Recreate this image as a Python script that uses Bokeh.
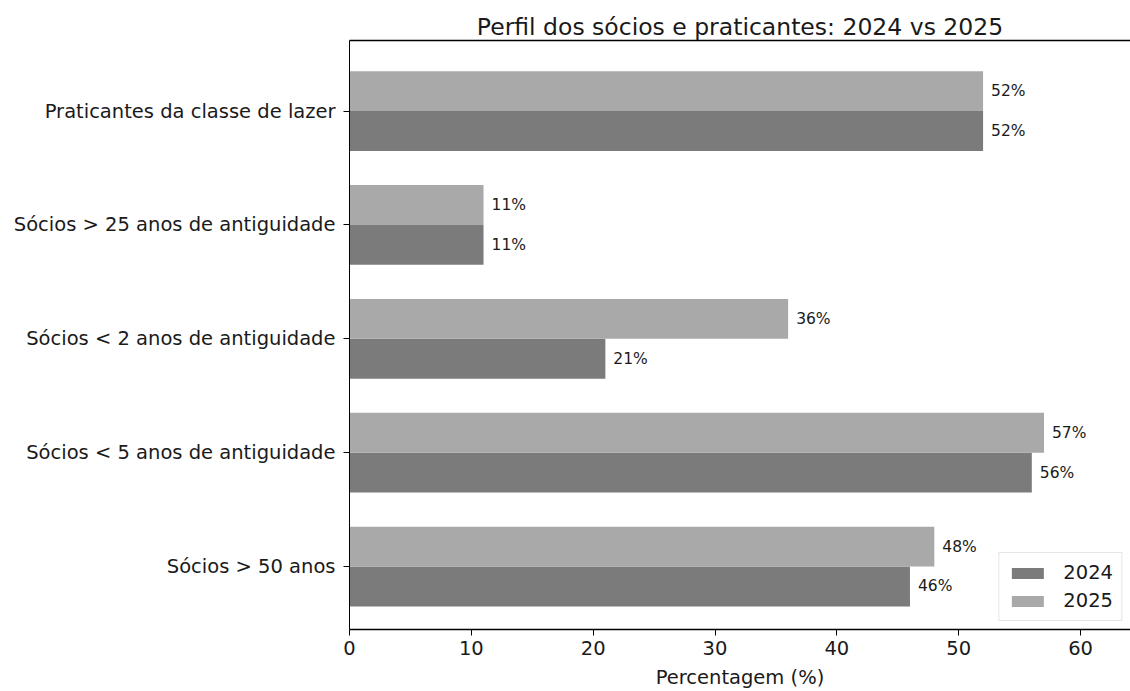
from bokeh.plotting import figure
from bokeh.models import ColumnDataSource, Range1d, FixedTicker, LinearAxis, Legend, LegendItem
from bokeh.core.properties import value
from bokeh.embed import file_html
from bokeh.resources import INLINE

# Data (bottom to top)
categories = [
    "Sócios > 50 anos",
    "Sócios < 5 anos de antiguidade",
    "Sócios < 2 anos de antiguidade",
    "Sócios > 25 anos de antiguidade",
    "Praticantes da classe de lazer",
]
values_2024 = [46, 56, 21, 11, 52]
values_2025 = [48, 57, 36, 11, 52]
years = ["2024", "2025"]
x_ticks = [0, 10, 20, 30, 40, 50, 60]

FONT = "DejaVu Sans"
TXT = "#1a1a1a"
C2024 = "#7b7b7b"
C2025 = "#a9a9a9"
bar_h = 0.35

pos = list(range(len(categories)))
src24 = ColumnDataSource(dict(
    y=[i - bar_h / 2 for i in pos], v=values_2024,
    lab=[f"{v}%" for v in values_2024]))
src25 = ColumnDataSource(dict(
    y=[i + bar_h / 2 for i in pos], v=values_2025,
    lab=[f"{v}%" for v in values_2025]))

p = figure(width=1130, height=691, output_backend="svg", toolbar_location=None,
           x_range=Range1d(0, 64.1), y_range=Range1d(-0.553, 4.62),
           min_border_left=349, min_border_right=0, min_border_top=40, min_border_bottom=61,
           title="Perfil dos sócios e praticantes: 2024 vs 2025")

p.title.text_font = FONT
p.title.text_font_size = "23.5px"
p.title.text_font_style = "normal"
p.title.text_color = TXT
p.title.align = "center"
p.title.offset = 16
p.title.standoff = 0

r24 = p.hbar(y="y", right="v", left=0, height=bar_h, source=src24,
             fill_color=C2024, line_color=None)
r25 = p.hbar(y="y", right="v", left=0, height=bar_h, source=src25,
             fill_color=C2025, line_color=None)

for s in (src24, src25):
    p.text(x="v", y="y", text="lab", source=s, x_offset=8,
           text_baseline="middle", text_align="left",
           text_font=value(FONT), text_font_size="15.5px", text_color=TXT)

p.xgrid.visible = False
p.ygrid.visible = False
p.outline_line_color = None
p.background_fill_color = "white"
p.border_fill_color = "white"

# x axis
xa = p.xaxis[0]
xa.ticker = FixedTicker(ticks=x_ticks)
xa.axis_label = "Percentagem (%)"
xa.axis_label_text_font = FONT
xa.axis_label_text_font_size = "19.5px"
xa.axis_label_text_font_style = "normal"
xa.axis_label_text_color = TXT
xa.axis_label_standoff = 8
xa.major_label_text_font = FONT
xa.major_label_text_font_size = "19.5px"
xa.major_label_text_color = TXT
xa.major_label_standoff = 5
xa.major_tick_out = 6
xa.major_tick_in = 0
xa.minor_tick_line_color = None
xa.axis_line_color = "black"
xa.axis_line_width = 1.5
xa.major_tick_line_color = "black"

# y axis
ya = p.yaxis[0]
ya.ticker = FixedTicker(ticks=pos)
ya.major_label_overrides = {i: c for i, c in enumerate(categories)}
ya.major_label_text_font = FONT
ya.major_label_text_font_size = "19.5px"
ya.major_label_text_color = TXT
ya.major_label_standoff = 8
ya.major_tick_out = 6
ya.major_tick_in = 0
ya.minor_tick_line_color = None
ya.axis_line_color = "black"
ya.major_tick_line_color = "black"

# top spine
top = LinearAxis(ticker=FixedTicker(ticks=[]), major_tick_line_color=None,
                 minor_tick_line_color=None, axis_line_color="black",
                 axis_line_width=1.5, major_label_text_font_size="0px")
p.add_layout(top, "above")

legend = Legend(items=[LegendItem(label=years[0], renderers=[r24]),
                       LegendItem(label=years[1], renderers=[r25])],
                location="bottom_right")
legend.label_text_font = FONT
legend.label_text_font_size = "19.5px"
legend.label_text_color = TXT
legend.glyph_width = 40
legend.glyph_height = 14
legend.label_height = 20
legend.label_standoff = 16
legend.spacing = 5
legend.padding = 8
legend.margin = 8
legend.border_line_color = "#cccccc"
legend.background_fill_alpha = 0.9
p.add_layout(legend)

open("out.html", "w").write(file_html(p, INLINE))
